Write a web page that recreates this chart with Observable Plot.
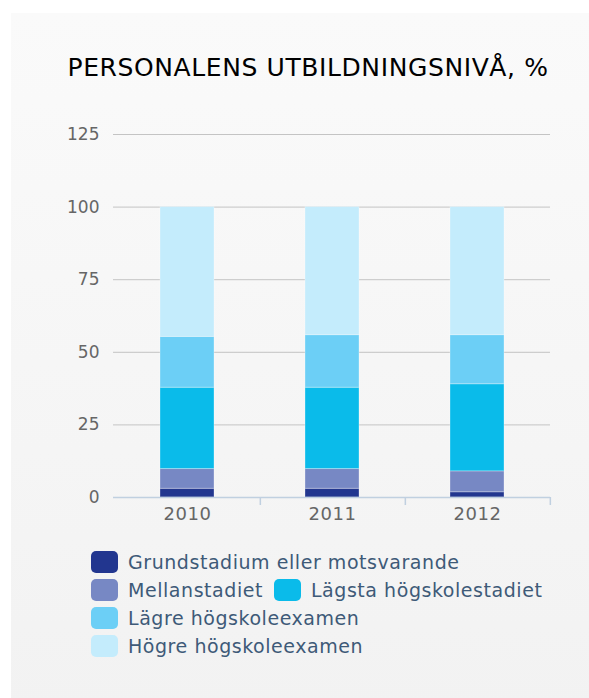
<!DOCTYPE html>
<html>
<head>
<meta charset="utf-8">
<script src="https://cdn.jsdelivr.net/npm/d3@7"></script>
<script src="https://cdn.jsdelivr.net/npm/@observablehq/plot@0.6"></script>
<style>
  html, body { margin: 0; padding: 0; background: #ffffff; }
  body { width: 589px; height: 698px; position: relative; overflow: hidden; font-family: "DejaVu Sans", sans-serif; }
  #panel { position: absolute; left: 11px; top: 13px; width: 600px; height: 700px;
           background: linear-gradient(to bottom, #fafafa 0%, #f2f2f2 100%); }
  #title { position: absolute; left: 0; top: 52px; width: 616px; text-align: center;
           font-size: 25px; letter-spacing: 0.6px; color: #000; line-height: 32px; }
  #chart { position: absolute; left: 0; top: 110px; }
  #legend { position: absolute; left: 91px; top: 548px; width: 480px; display: flex; flex-wrap: wrap;
            column-gap: 11px; }
  .item { display: flex; align-items: center; height: 28px; }
  .sw { width: 27px; height: 22px; border-radius: 5px; margin-right: 10px; }
  .lbl { font-size: 19px; color: #3e5a78; line-height: 28px; letter-spacing: 0.55px; white-space: nowrap; }
  #chart svg g[aria-label="x-axis tick label"] text { letter-spacing: 0.5px; }
</style>
</head>
<body>
<div id="panel"></div>
<div id="title">PERSONALENS UTBILDNINGSNIVÅ, %</div>
<div id="chart"></div>
<div id="legend"></div>
<script>
const title = "PERSONALENS UTBILDNINGSNIVÅ, %";
const years = ["2010", "2011", "2012"];
const series = ["Grundstadium eller motsvarande", "Mellanstadiet", "Lägsta högskolestadiet", "Lägre högskoleexamen", "Högre högskoleexamen"];
const grundstadium = [3.0, 3.0, 1.8];
const mellanstadiet = [6.8, 6.8, 7.2];
const lagstaHogskolestadiet = [28.0, 28.0, 30.0];
const lagreHogskoleexamen = [17.5, 18.1, 16.9];
const hogreHogskoleexamen = [44.7, 44.1, 44.1];
const colors = ["#22368f", "#7788c4", "#0abbea", "#6ccff6", "#c4ecfc"];
const yTicks = [0, 25, 50, 75, 100, 125];

const values = [grundstadium, mellanstadiet, lagstaHogskolestadiet, lagreHogskoleexamen, hogreHogskoleexamen];
const rows = [];
series.forEach((s, si) => years.forEach((y, yi) => rows.push({year: y, series: s, value: values[si][yi]})));

const W = 589, H = 417, mL = 113, mR = 39, mT = 24, mB = 30;
const padInner = 0.63, padOuter = padInner / 2;
const step = (W - mL - mR) / (years.length - padInner + 2 * padOuter);

const chart = Plot.plot({
  width: W, height: H,
  marginLeft: mL, marginRight: mR, marginTop: mT, marginBottom: mB,
  style: {background: "transparent", fontFamily: "DejaVu Sans, sans-serif", color: "#666666"},
  x: {domain: years, paddingInner: padInner, paddingOuter: padOuter, label: null},
  y: {domain: [0, 125], label: null},
  color: {domain: series, range: colors},
  marks: [
    Plot.gridY(yTicks, {stroke: "#c4c4c4", strokeOpacity: 1}),
    Plot.barY(rows, Plot.stackY({x: "year", y: "value", fill: "series", stroke: "#ffffff", strokeOpacity: 0.3, strokeWidth: 1, order: series})),
    Plot.ruleY([0], {stroke: "#c0d0e0", strokeWidth: 1.5}),
    Plot.ruleX(years, {x: d => d, y1: 0, y2: 0, dx: step / 2, insetBottom: -8, stroke: "#c0d0e0", strokeWidth: 1.5}),
    Plot.axisY(yTicks, {tickSize: 0, tickPadding: 14, fontSize: 17, label: null}),
    Plot.axisX({tickSize: 0, tickPadding: 10, fontSize: 18, label: null})
  ]
});
document.getElementById("chart").appendChild(chart);
document.getElementById("title").textContent = title;

const legend = document.getElementById("legend");
series.forEach((s, i) => {
  const item = document.createElement("div");
  item.className = "item";
  const sw = document.createElement("div");
  sw.className = "sw";
  sw.style.background = colors[i];
  const lbl = document.createElement("span");
  lbl.className = "lbl";
  lbl.textContent = s;
  item.appendChild(sw); item.appendChild(lbl);
  legend.appendChild(item);
});
</script>
</body>
</html>
